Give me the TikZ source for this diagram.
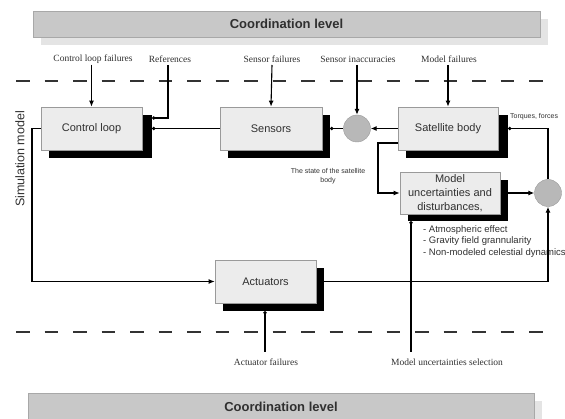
\documentclass[tikz,border=0pt]{standalone}
\usepackage{fontspec}
\setmainfont{Liberation Serif}
\setsansfont{Liberation Sans}
\usetikzlibrary{arrows.meta,calc}
\definecolor{barfill}{HTML}{C8C8C8}
\definecolor{barline}{HTML}{A8A8A8}
\definecolor{barshadow}{HTML}{E4E4E4}
\definecolor{boxfill}{HTML}{ECECEC}
\definecolor{boxline}{HTML}{9A9A9A}
\definecolor{sumfill}{HTML}{B8B8B8}
\definecolor{txt}{HTML}{303030}
\begin{document}
\begin{tikzpicture}[x=1pt,y=-1pt,
  blockbox/.style={draw=boxline,fill=boxfill,line width=0.6pt,inner sep=0pt,
    font=\sffamily\fontsize{11}{14}\selectfont,text=txt,align=center},
  shadowbox/.style={fill=black},
  sumnode/.style={circle,draw=boxline,fill=sumfill,minimum size=27pt,inner sep=0pt},
  flow/.style={line width=1.1pt,draw=black},
  arr/.style={flow,-{Latex[length=6pt,width=5pt]}},
  dotend/.style={flow,-{Circle[length=3.5pt]}},
  toplabel/.style={font=\fontsize{9.5}{11}\selectfont,text=txt,inner sep=1pt},
  smalltxt/.style={font=\sffamily\fontsize{7}{8.5}\selectfont,text=txt,align=center,inner sep=0pt},
  dashline/.style={line width=1.4pt,draw=black!80,dash pattern=on 13.5pt off 15pt},
  barnode/.style={font=\sffamily\bfseries\fontsize{13}{15}\selectfont,text=txt}
]
\useasboundingbox (0,0) rectangle (565,419);
\clip (0,0) rectangle (565,419);

% coordination bars
\fill[barshadow] (41,19) rectangle (548,45);
\draw[barline,fill=barfill,line width=0.6pt] (33,11) rectangle (540,37);
\node[barnode] (topbar) at (286.5,24) {Coordination level};
\fill[barshadow] (36,401) rectangle (542,430);
\draw[barline,fill=barfill,line width=0.6pt] (28,393) rectangle (534,430);
\node[barnode] (botbar) at (281,407) {Coordination level};

% dashed separators
\draw[dashline] (16,81) -- (545,81);
\draw[dashline] (16,332) -- (545,332);

% side label
\node[rotate=90,font=\sffamily\fontsize{12.5}{14}\selectfont,text=txt] (sim) at (20,159) {Simulation model};

% shadows
\fill[shadowbox] (49,115) rectangle (152,158);
\fill[shadowbox] (228,115) rectangle (330,158);
\fill[shadowbox] (406,115) rectangle (508,158);
\fill[shadowbox] (408,180) rectangle (508,221);
\fill[shadowbox] (223,268) rectangle (324,311);

% blocks
\node[blockbox,minimum width=101pt,minimum height=43pt] (cl) at (91.5,128.5) {Control loop};
\node[blockbox,minimum width=102pt,minimum height=43pt] (sen) at (271,128.5) {Sensors};
\node[blockbox,minimum width=100pt,minimum height=43pt] (sat) at (448,128.5) {Satellite body};
\node[blockbox,minimum width=100pt,minimum height=42pt] (mod) at (450,193) {Model\\uncertainties and\\disturbances,};
\node[blockbox,minimum width=101pt,minimum height=43pt] (act) at (265.5,281.5) {Actuators};

% summing junctions
\node[sumnode] (s1) at (357,128.5) {};
\node[sumnode] (s2) at (548,193) {};

% anchor points on shadows
\coordinate (clsh) at (152,128.5);
\coordinate (clshr) at (152,118);
\coordinate (sensh) at (330,128.5);
\coordinate (satsh) at (508,128.5);
\coordinate (modsh) at (508,193);
\coordinate (modshb) at (411,221);
\coordinate (actsh) at (324,281.5);
\coordinate (actshb) at (265,311);

% top labels
\node[toplabel] (l1) at (93,59) {Control loop failures};
\node[toplabel] (l2) at (170,59) {References};
\node[toplabel] (l3) at (272,59) {Sensor failures};
\node[toplabel] (l4) at (358,59) {Sensor inaccuracies};
\node[toplabel] (l5) at (449,59) {Model failures};

% bottom labels
\node[toplabel] (l6) at (266,362) {Actuator failures};
\node[toplabel] (l7) at (447,362) {Model uncertainties selection};

% small texts
\node[smalltxt] (state) at (328,176) {The state of the satellite\\body};
\node[smalltxt,anchor=west] (torq) at (510,117) {Torques, forces};
\node[font=\sffamily\fontsize{9.5}{11.5}\selectfont,text=txt,align=left,anchor=north west,inner sep=0pt] (list) at (423,225)
  {- Atmospheric effect\\- Gravity field grannularity\\- Non-modeled celestial dynamics};

% connectors from top labels
\draw[arr] (l1.south -| cl.north) ++(0,0) -- (cl.north);
\draw[dotend] (168,65) -- (168,118) -- (clshr);
\draw[arr] (272,65) -- (sen.north);
\draw[arr] (357,65) -- (s1.north);
\draw[arr] (448,65) -- (sat.north);

% main loop
\draw[dotend] (sen.west) -- (clsh);
\draw[dotend] (s1.west) -- (sensh);
\draw[arr] (sat.west) -- (s1.east);
\draw[dotend] (s2.north) |- (satsh);
\draw[arr] (398,143) -- (378,143) |- (mod.west);
\draw[arr] (modsh) -- (s2.west);
\draw[arr] (cl.west) -- (32,128.5) |- (act.west);
\draw[arr] (actsh) -| (s2.south);
\fill (411,281.5) circle (1.6pt);

% bottom connectors
\draw[dotend] (265,352) -- (actshb);
\draw[dotend] (411,352) -- (modshb);
\end{tikzpicture}
\end{document}
